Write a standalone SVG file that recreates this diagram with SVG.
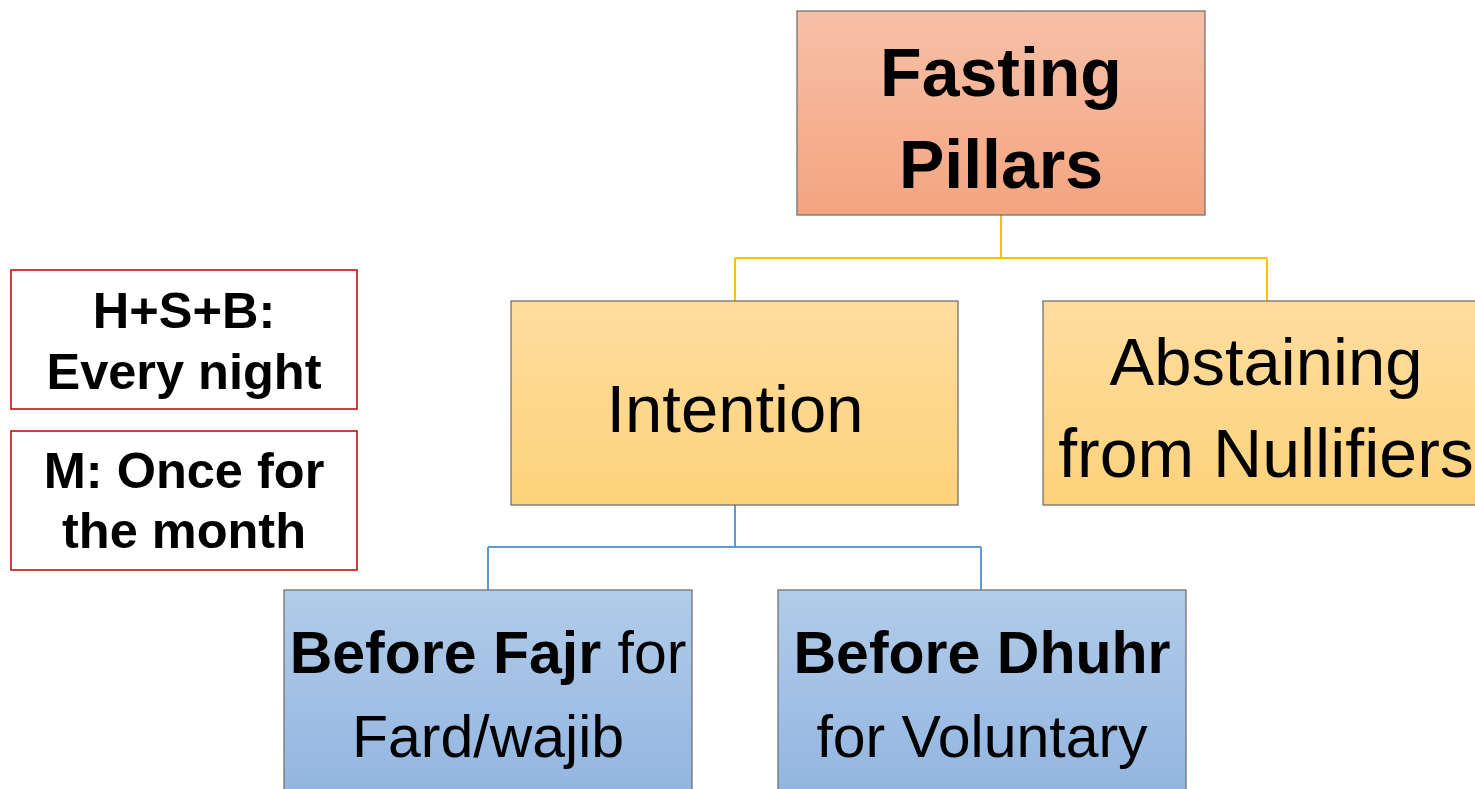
<svg xmlns="http://www.w3.org/2000/svg" width="1475" height="789" viewBox="0 0 1475 789">
  <defs>
    <linearGradient id="gOrange" x1="0" y1="0" x2="0" y2="1">
      <stop offset="0" stop-color="#f7c0a8"/>
      <stop offset="1" stop-color="#f4a47f"/>
    </linearGradient>
    <linearGradient id="gGold" x1="0" y1="0" x2="0" y2="1">
      <stop offset="0" stop-color="#fedd9f"/>
      <stop offset="1" stop-color="#fdd27a"/>
    </linearGradient>
    <linearGradient id="gBlue" x1="0" y1="0" x2="0" y2="1">
      <stop offset="0" stop-color="#b2cce9"/>
      <stop offset="1" stop-color="#90b4e0"/>
    </linearGradient>
  </defs>
  <style>
    .box { stroke: #767171; stroke-width: 1.3; }
    .note { fill: #ffffff; stroke: #c00000; stroke-width: 1.5; }
    .t { font-family: "Liberation Sans", Arial, sans-serif; fill: #000; text-anchor: middle; }
    .b { font-weight: bold; }
    .link { fill: none; stroke-width: 2; }
  </style>
  <rect width="1475" height="789" fill="#ffffff"/>

  <!-- tree connectors -->
  <g id="connectors">
    <path class="link" stroke="#ffc000" d="M1001 215 V258 M735 258 H1267 M735 258 V301 M1267 258 V301"/>
    <path class="link" stroke="#5b9bd5" d="M735 505 V547 M488 547 H981 M488 547 V590 M981 547 V590"/>
  </g>

  <g id="root">
    <rect class="box" x="797" y="11" width="408" height="204" fill="url(#gOrange)"/>
    <text class="t b" x="1001" y="96" font-size="68">Fasting</text>
    <text class="t b" x="1001" y="188" font-size="68">Pillars</text>
  </g>

  <g id="intention">
    <rect class="box" x="511" y="301" width="447" height="204" fill="url(#gGold)"/>
    <text class="t" x="735" y="432" font-size="67">Intention</text>
  </g>

  <g id="abstaining">
    <rect class="box" x="1043" y="301" width="440" height="204" fill="url(#gGold)"/>
    <text class="t" x="1266" y="385" font-size="67">Abstaining</text>
    <text class="t" x="1266" y="477" font-size="68">from Nullifiers</text>
  </g>

  <g id="before-fajr">
    <rect class="box" x="284" y="590" width="408" height="215" fill="url(#gBlue)"/>
    <text class="t" x="488" y="673" font-size="59"><tspan class="b">Before Fajr</tspan> for</text>
    <text class="t" x="488" y="757" font-size="59">Fard/wajib</text>
  </g>

  <g id="before-dhuhr">
    <rect class="box" x="778" y="590" width="408" height="215" fill="url(#gBlue)"/>
    <text class="t b" x="982" y="673" font-size="59">Before Dhuhr</text>
    <text class="t" x="982" y="757" font-size="59">for Voluntary</text>
  </g>

  <g id="note-hsb">
    <rect class="note" x="11" y="270" width="346" height="139"/>
    <text class="t b" x="184" y="328" font-size="50.5">H+S+B:</text>
    <text class="t b" x="184" y="389" font-size="50.5">Every night</text>
  </g>

  <g id="note-m">
    <rect class="note" x="11" y="431" width="346" height="139"/>
    <text class="t b" x="184" y="488" font-size="50.5">M: Once for</text>
    <text class="t b" x="184" y="548" font-size="50.5">the month</text>
  </g>
</svg>
